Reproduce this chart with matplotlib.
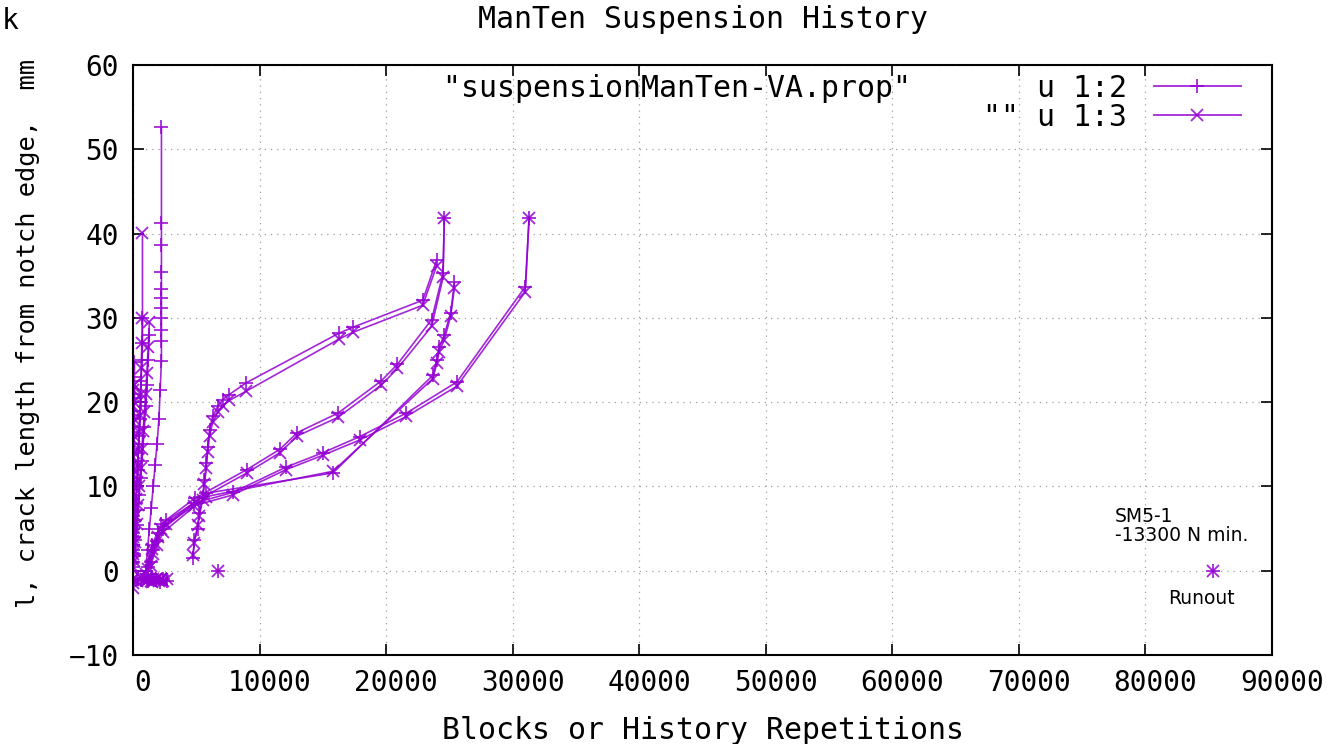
import matplotlib
matplotlib.use("Agg")
import matplotlib.pyplot as plt
import matplotlib.transforms as mtransforms
from matplotlib.lines import Line2D

# crack length vs. blocks, one list triple per specimen (cycles, side 2, side 3)
cycles_a = [4730, 4860, 5100, 5250, 5500, 5650, 5800, 5900, 6050, 6300, 6700, 7100, 7600, 8950, 16300, 17400, 22900, 24000]
side2_a = [1.5, 3.7, 4.9, 6.9, 8.8, 10.8, 12.8, 14.7, 16.7, 18.3, 19.5, 20.3, 20.9, 22.3, 28.2, 28.9, 32.1, 36.9]
side3_a = [1.9, 3.3, 5.4, 6.5, 8.4, 10.3, 12.2, 14.1, 16.0, 17.6, 18.8, 19.6, 20.2, 21.3, 27.5, 28.3, 31.5, 36.2]

cycles_b = [1200, 1600, 2000, 2600, 4900, 9000, 11600, 13000, 16200, 19600, 20900, 23600, 24500, 24600]
side2_b = [0.5, 2.5, 4.5, 6.0, 8.6, 12.0, 14.4, 16.4, 18.7, 22.5, 24.5, 29.8, 35.3, 41.9]
side3_b = [0.2, 2.0, 4.0, 5.5, 8.2, 11.6, 14.0, 16.0, 18.2, 22.0, 24.0, 29.0, 34.8, 41.9]

cycles_c = [1400, 1900, 2400, 5800, 15800, 23700, 24000, 24200, 24600, 25100, 25400]
side2_c = [1.0, 3.5, 5.0, 9.2, 11.6, 23.2, 25.0, 26.5, 28.0, 30.6, 34.2]
side3_c = [0.6, 3.0, 4.6, 8.8, 11.8, 22.8, 24.6, 26.0, 27.4, 30.2, 33.6]

cycles_d = [1000, 1500, 2200, 4800, 7900, 12100, 15000, 17900, 21600, 25600, 31000, 31300]
side2_d = [0.0, 3.0, 5.5, 8.0, 9.3, 12.3, 14.0, 15.9, 18.7, 22.4, 33.7, 41.9]
side3_d = [-0.4, 2.6, 5.0, 7.7, 9.0, 12.0, 13.7, 15.5, 18.3, 21.9, 33.1, 41.9]

cycles_e = [1000, 1150, 1300, 1450, 1600, 1750, 1900, 2050, 2150, 2250,
            2250, 2250, 2250, 2250, 2250, 2250, 2250, 2250, 2250, 2250]
side2_e = [0.0, 2.5, 5.0, 7.5, 10.0, 12.5, 15.0, 18.0, 21.5, 24.9,
           27.2, 28.6, 30.0, 31.2, 32.4, 33.4, 35.5, 38.7, 41.2, 52.6]
side3_e = [-1.0, -1.1, -1.0, -1.2, -1.0, -1.1, -1.0, -1.2, -1.1, -1.0,
           -1.0, -1.0, -1.0, -1.0, -1.0, -1.0, -1.0, -1.0, -1.0, -1.0]

cycles_f = [0, 60, 120, 180, 240, 300, 360, 420, 480, 540, 600, 650, 700, 750, 750]
side2_f = [0.0, 2.0, 4.0, 6.0, 8.0, 10.0, 12.0, 14.0, 16.0, 18.0, 20.0, 22.5, 25.0, 27.0, 30.0]
side3_f = [0.5, 2.5, 4.5, 6.5, 8.5, 10.5, 12.5, 14.5, 16.5, 18.5, 21.0, 24.0, 27.0, 30.0, 40.1]

cycles_g = [0, 100, 200, 300, 400, 500, 600, 700, 800, 900, 1000, 1100, 1200, 1300]
side2_g = [0.0, 1.8, 3.6, 5.4, 7.2, 9.0, 11.0, 13.0, 15.0, 17.0, 19.5, 22.0, 25.0, 28.0]
side3_g = [-1.0, 1.2, 3.4, 5.6, 7.8, 10.0, 12.2, 14.4, 16.6, 18.8, 21.0, 23.5, 26.5, 29.5]

cycles_h = [0, 10, 20, 30, 40, 50, 60, 70, 80, 90, 100, 110, 120]
side2_h = [-1.0, 1.0, 3.0, 5.0, 7.0, 9.0, 11.0, 13.0, 15.0, 17.0, 19.0, 21.0, 24.8]
side3_h = [-2.0, 2.0, 4.0, 6.0, 8.0, 10.0, 12.0, 14.0, 16.0, 18.0, 20.0, 22.0, 22.0]

cycles_k = [0, 0, 0, 0, 0, 0, 0, 0, 0, 0, 0, 0]
side2_k = [0.5, 2.5, 4.5, 6.5, 8.5, 10.5, 12.5, 14.5, 16.5, 18.5, 20.5, 23.0]
side3_k = [-1.5, 1.5, 3.5, 5.5, 7.5, 9.5, 11.5, 13.5, 15.5, 17.5, 19.5, 21.5]

cycles_i = [0, 300, 600, 900, 1200, 1500, 1800, 2100, 2400, 2700]
side2_i = [-1.2, -1.0, -1.1, -0.9, -1.2, -1.0, -1.1, -1.3, -1.0, -1.2]
side3_i = [-1.0, -1.2, -0.9, -1.1, -1.0, -1.3, -1.0, -1.1, -1.2, -1.0]

cycles_j = [6700]
side2_j = [0.0]
side3_j = [0.0]

cycles_runout = [85300]
side2_runout = [0.0]
side3_runout = [0.0]

specimens = [
    (cycles_a, side2_a, side3_a),
    (cycles_b, side2_b, side3_b),
    (cycles_c, side2_c, side3_c),
    (cycles_d, side2_d, side3_d),
    (cycles_e, side2_e, side3_e),
    (cycles_f, side2_f, side3_f),
    (cycles_g, side2_g, side3_g),
    (cycles_h, side2_h, side3_h),
    (cycles_k, side2_k, side3_k),
    (cycles_i, side2_i, side3_i),
    (cycles_j, side2_j, side3_j),
    (cycles_runout, side2_runout, side3_runout),
]

x_ticks = [0, 10000, 20000, 30000, 40000, 50000, 60000, 70000, 80000, 90000]
y_ticks = [-10, 0, 10, 20, 30, 40, 50, 60]

purple = '#9400d3'
mono = 'DejaVu Sans Mono'

fig = plt.figure(figsize=(13.31, 7.44), dpi=100)
ax = fig.add_axes([0.0999, 0.1196, 0.8558, 0.7930])

for cyc, s2, s3 in specimens:
    ax.plot(cyc, s2, color=purple, lw=1.2, alpha=0.85, marker='+', markersize=10, mew=1.3)
for cyc, s2, s3 in specimens:
    ax.plot(cyc, s3, color=purple, lw=1.2, alpha=0.85, marker='x', markersize=8, mew=1.3)

ax.set_xlim(0, 90000)
ax.set_ylim(-10, 60)
ax.set_xticks(x_ticks)
ax.set_yticks(y_ticks)
ax.tick_params(direction='in', length=8, width=1.2, top=True, right=True,
               labelsize=20, pad=10)
for lab in ax.get_xticklabels() + ax.get_yticklabels():
    lab.set_family(mono)
# gnuplot puts the x labels a little to the right of the ticks
offset = mtransforms.ScaledTranslation(0.10, 0, fig.dpi_scale_trans)
for lab in ax.get_xticklabels():
    lab.set_transform(lab.get_transform() + offset)

ax.grid(True, color='#a0a0a0', lw=0.9, linestyle=(0, (1, 4)))
for sp in ax.spines.values():
    sp.set_linewidth(1.5)

ax.set_title('ManTen Suspension History', family=mono, fontsize=21.5, pad=27)
ax.set_xlabel('Blocks or History Repetitions', family=mono, fontsize=21.5, labelpad=14)
ax.set_ylabel('l, crack length from notch edge,  mm', family=mono, fontsize=18.3)
ax.yaxis.set_label_coords(-0.082, 0.545)

ax.text(77600, 3.0, 'SM5-1\n-13300 N min.', family='DejaVu Sans', fontsize=13.5,
        ha='left', va='bottom', linespacing=1.0)
ax.text(84400, -4.0, 'Runout', family='DejaVu Sans', fontsize=13.5,
        ha='center', va='baseline')

handles = [
    Line2D([], [], color=purple, lw=1.3, alpha=0.85, marker='+', markersize=10, mew=1.3),
    Line2D([], [], color=purple, lw=1.3, alpha=0.85, marker='x', markersize=8, mew=1.3),
]
labels = [
    '"suspensionManTen-VA.prop"       u 1:2',
    '                              "" u 1:3',
]
leg = ax.legend(handles, labels, loc='upper right', bbox_to_anchor=(0.9724, 0.985),
                frameon=False, markerfirst=False,
                prop={'family': mono, 'size': 21.5}, handlelength=2.9, handletextpad=0.9,
                labelspacing=0.0, borderpad=0.0, borderaxespad=0.0)

fig.text(0.001, 0.972, 'k', family=mono, fontsize=20, ha='left', va='center')

fig.savefig('out.png', dpi=100)
